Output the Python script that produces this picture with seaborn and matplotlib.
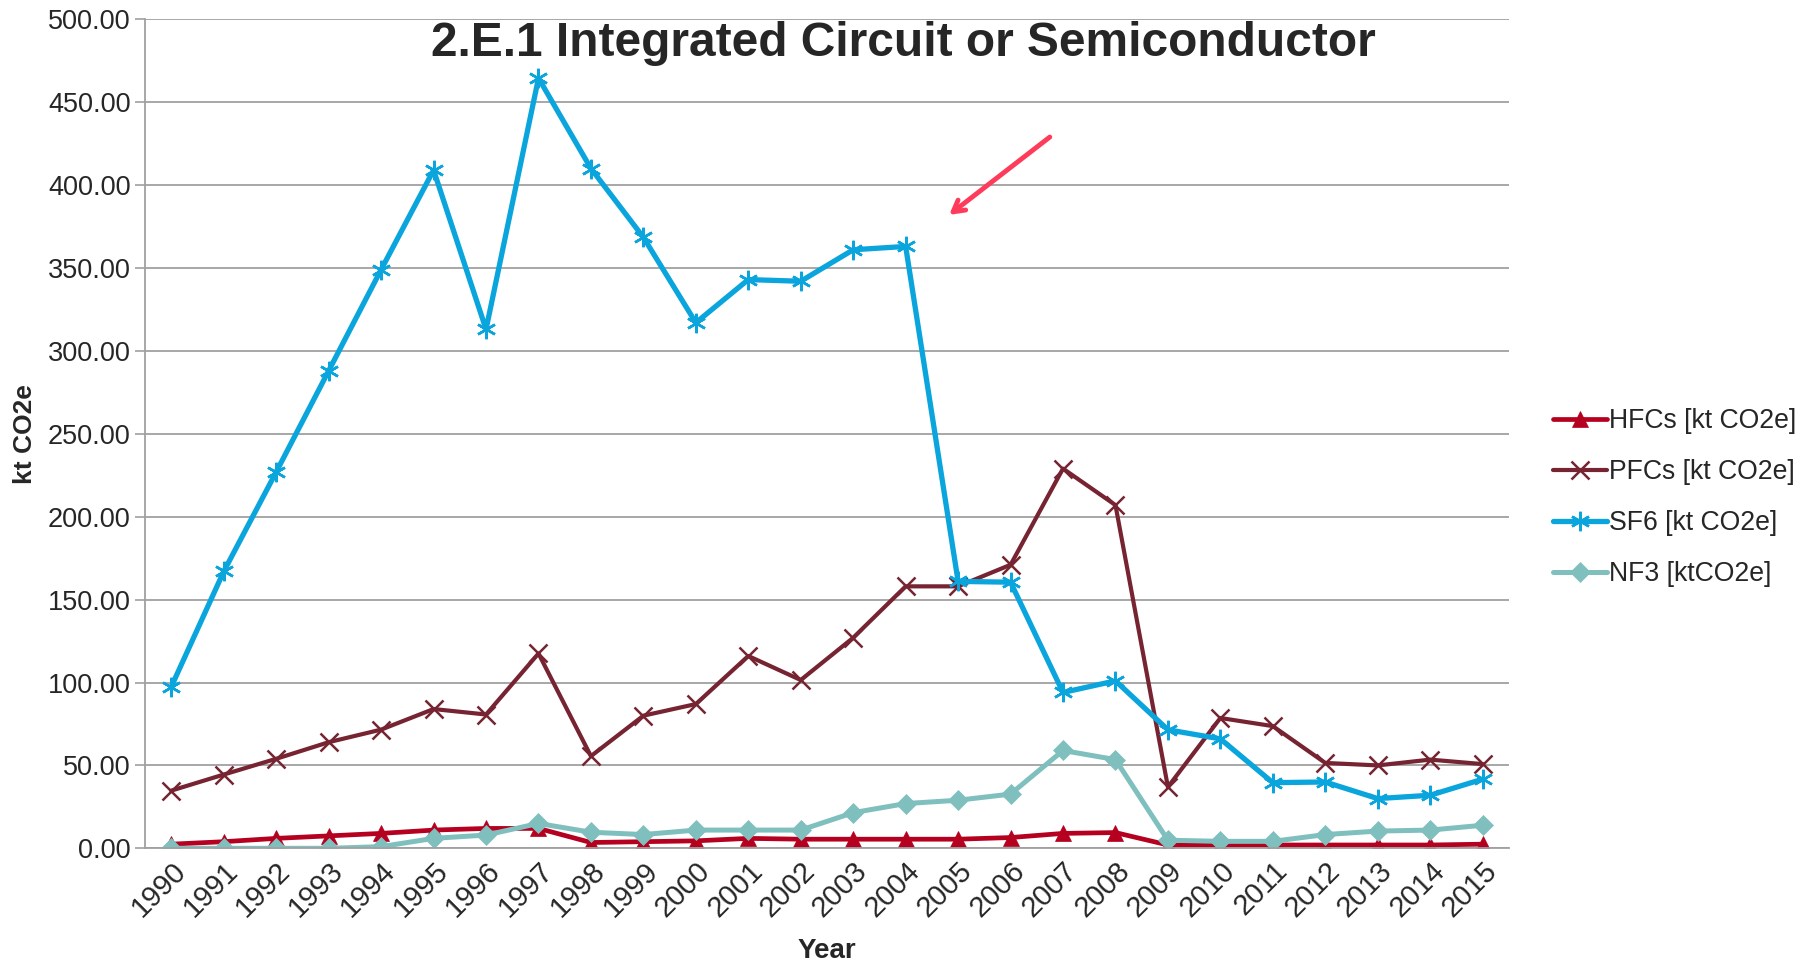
import numpy as np
import pandas as pd
import seaborn as sns
import matplotlib.pyplot as plt

years = [str(y) for y in range(1990, 2016)]

hfcs = [2.5, 4.0, 6.0, 7.5, 9.0, 11.0, 12.0, 12.0, 3.5, 4.0, 4.5, 6.0, 5.5,
        5.5, 5.5, 5.5, 6.5, 9.0, 9.5, 2.0, 2.0, 2.0, 2.0, 2.0, 2.0, 2.5]
pfcs = [34.8, 44.5, 54.0, 64.0, 71.6, 84.0, 80.7, 117.5, 55.6, 80.0, 87.0,
        116.0, 101.5, 127.0, 158.0, 158.0, 171.0, 229.0, 207.0, 37.0, 78.6,
        73.7, 51.5, 50.0, 53.5, 50.8]
sf6 = [97.5, 167.0, 227.0, 288.0, 349.0, 409.0, 313.0, 464.5, 410.0, 368.5,
       317.0, 343.0, 342.0, 361.0, 363.0, 161.0, 160.5, 94.0, 101.0, 71.5,
       66.0, 39.6, 40.0, 30.0, 32.0, 41.7]
nf3 = [0.0, 0.0, 0.0, 0.0, 1.0, 6.0, 8.0, 15.0, 9.7, 8.3, 11.0, 11.0, 11.0,
       21.5, 27.0, 29.0, 32.7, 59.0, 53.5, 4.9, 4.2, 4.2, 8.3, 10.4, 11.0, 13.9]

series_names = ['HFCs [kt CO2e]', 'PFCs [kt CO2e]', 'SF6 [kt CO2e]', 'NF3 [ktCO2e]']
series_values = [hfcs, pfcs, sf6, nf3]
colors = ['#B5001F', '#772432', '#0AA5DC', '#7FC0BF']
markers = ['^', 'x', (6, 2, 0), 'D']
msizes = [12, 13, 14, 10]
medges = [0.5, 1.8, 1.8, 0.5]
lwidths = [3.4, 3.0, 3.8, 3.6]

sns.set_style('white')
plt.rcParams['font.family'] = ['Liberation Sans', 'DejaVu Sans']

fig = plt.figure(figsize=(18.07, 9.64), dpi=100)
ax = fig.add_axes([0.0803, 0.120, 0.7547, 0.860])

pos = np.arange(len(years))
for name, vals, c, m, ms, me, lw in zip(series_names, series_values, colors,
                                        markers, msizes, medges, lwidths):
    df = pd.DataFrame({'x': pos, 'y': vals})
    sns.lineplot(data=df, x='x', y='y', ax=ax, color=c, marker=m, markersize=ms,
                 markeredgecolor=c, markeredgewidth=me, linewidth=lw, label=name)

ax.set_xlim(-0.5, len(years) - 0.5)
ax.set_ylim(0, 500)
ax.set_yticks(np.arange(0, 501, 50))
ax.set_yticklabels([f'{v:.2f}' for v in np.arange(0, 501, 50)], fontsize=19.5)
ax.set_xticks(pos)
ax.set_xticklabels(years, rotation=45, ha='right', rotation_mode='anchor', fontsize=21)
ax.set_xticks(np.arange(-0.5, len(years), 1), minor=True)
ax.tick_params(axis='x', which='major', length=0, pad=6)
ax.tick_params(axis='x', which='minor', length=9, color='#A0A0A0', width=1.2, direction='out')
ax.tick_params(axis='y', length=7, color='#A0A0A0', width=1.2, direction='out', left=True)
ax.yaxis.grid(True, color='#A0A0A0', linewidth=1.3)
ax.xaxis.grid(False)
for s in ['top', 'right']:
    ax.spines[s].set_visible(False)
for s in ['left', 'bottom']:
    ax.spines[s].set_color('#A0A0A0')
    ax.spines[s].set_linewidth(1.3)

ax.set_xlabel('Year', fontsize=20, fontweight='bold', labelpad=11)
ax.set_ylabel('kt CO2e', fontsize=19, fontweight='bold', labelpad=8)

leg = ax.legend(loc='center left', bbox_to_anchor=(1.015, 0.423), frameon=False,
                fontsize=19.2, handlelength=2.0, handletextpad=0.1, labelspacing=0.93)

fig.text(0.5, 0.955, '2.E.1 Integrated Circuit or Semiconductor', ha='center', va='center',
         fontsize=34.5, fontweight='bold')

ax.annotate('', xy=(0.588, 0.762), xytext=(0.665, 0.86), xycoords='axes fraction',
            arrowprops=dict(arrowstyle='->,head_length=0.8,head_width=0.45',
                            color='#FF3B5C', lw=3.5))

fig.savefig('out.png', dpi=100)
